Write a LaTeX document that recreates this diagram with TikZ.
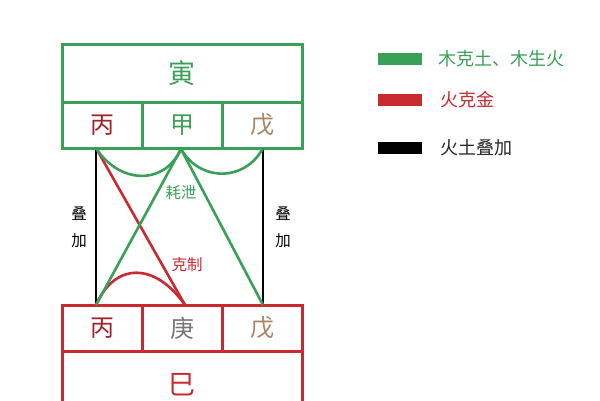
\documentclass[tikz,border=0pt]{standalone}
\usepackage{fontspec}
\setmainfont{Noto Sans CJK SC}
\usetikzlibrary{positioning}
\definecolor{wood}{RGB}{58,160,88}
\definecolor{fire}{RGB}{200,42,48}
\definecolor{earth}{RGB}{168,132,100}
\definecolor{metal}{RGB}{118,118,118}
\tikzset{
    pillar/.style={draw,line width=3pt,inner sep=0pt,outer sep=0pt,
        minimum width=80pt,minimum height=46pt,font=\fontsize{24}{24}\selectfont},
    branch/.style={pillar,minimum width=240pt,minimum height=58pt,font=\fontsize{27}{27}\selectfont},
    link/.style={line width=2.6pt},
    tag/.style={inner sep=0pt,font=\fontsize{15.5}{27}\selectfont,align=center},
    swatch/.style={fill,inner sep=0pt,minimum width=44pt,minimum height=12pt},
    key/.style={inner sep=0pt,anchor=west,font=\fontsize{18}{18}\selectfont}
}
\begin{document}
\begin{tikzpicture}[x=1pt,y=-1pt]
        \clip (0,0) rectangle (600,400);
        \fill[white] (0,0) rectangle (600,400);

        % Upper pillar
        \node[branch,draw=wood,text=wood] (yin) at (182,73) {寅};
        \node[pillar,draw=wood,text=fire!80!black,anchor=north west] (bingA) at (yin.south west) {丙};
        \node[pillar,draw=wood,text=wood,right=0pt of bingA] (jia) {甲};
        \node[pillar,draw=wood,text=earth,right=0pt of jia] (wuA) {戊};

        % Lower pillar
        \node[pillar,draw=fire,text=fire!80!black,anchor=north west] (bingB) at (62,305) {丙};
        \node[pillar,draw=fire,text=metal,right=0pt of bingB] (geng) {庚};
        \node[pillar,draw=fire,text=earth,right=0pt of geng] (wuB) {戊};
        \node[branch,draw=fire,text=fire,minimum height=70pt,anchor=north] (si) at (geng.south) {};
        \node[text=fire,font=\fontsize{27}{27}\selectfont] (siname) at (182,385) {巳};

        % Ends of the links
        \coordinate (tl) at (96,148);
        \coordinate (tm) at (181,149);
        \coordinate (tr) at (263,148);
        \coordinate (bl) at (96,305);
        \coordinate (bm) at (185,305);
        \coordinate (br) at (263,305);

        % Links
        \draw[link,black] (tl) -- (bl);
        \draw[link,black] (tr) -- (br);
        \draw[link,fire] (tl) -- (bm);
        \draw[link,fire] (bl) .. controls (115,262) and (155,262) .. (bm);
        \draw[link,wood] (bl) -- (tm) -- (br);
        \draw[link,wood] (tl) .. controls (120,185) and (165,185) .. (tm);
        \draw[link,wood] (tm) .. controls (200,182) and (245,182) .. (tr);

        \node[tag,text=wood] (haoxie) at (181,193) {耗泄};
        \node[tag,text=fire] (kezhi) at (187,265) {克制};
        \node[tag] (dieL) at (79,227) {叠\\加};
        \node[tag] (dieR) at (283,227) {叠\\加};

        % Legend
        \node[swatch,wood] (kg) at (400,59) {};
        \node[swatch,fire] (kf) at (400,100) {};
        \node[swatch,black] (kb) at (400,148) {};
        \node[key,text=wood,right=16pt of kg] (kgtext) {木克土、木生火};
        \node[key,text=fire,right=18pt of kf] (kftext) {火克金};
        \node[key,text=black!85,right=18pt of kb] (kbtext) {火土叠加};
    \end{tikzpicture}
\end{document}
